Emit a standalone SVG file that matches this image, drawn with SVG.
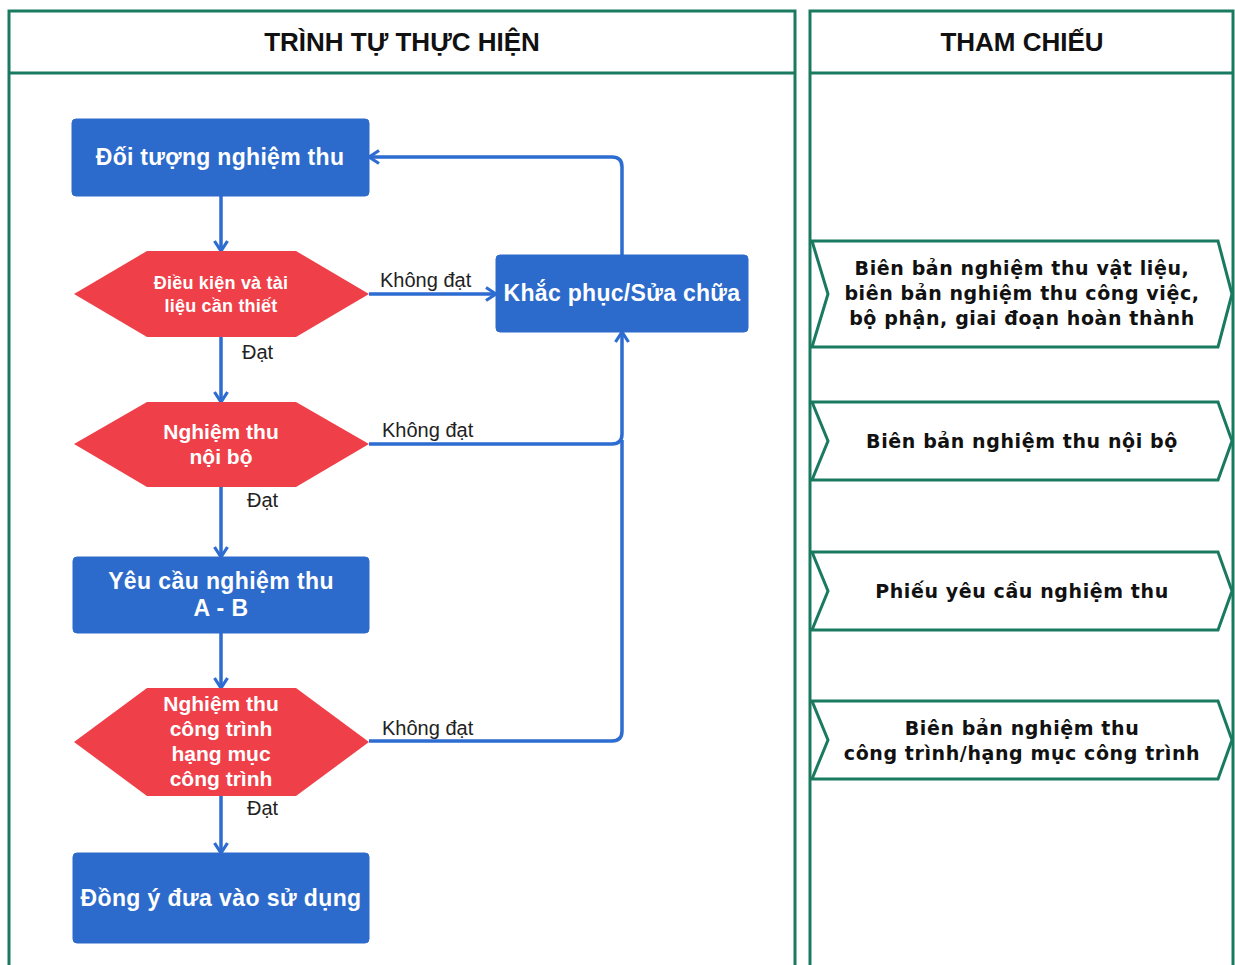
<svg xmlns="http://www.w3.org/2000/svg" width="1235" height="965" viewBox="0 0 1235 965">
<style>
.lane{fill:#fff;stroke:#1a7a60;stroke-width:3}
.hdr{font-family:"Liberation Sans",Arial,sans-serif;font-weight:bold;font-size:26px;fill:#111;text-anchor:middle}
.box{fill:#2c6bcb;stroke:#2c6bcb;stroke-width:1}
.hex{fill:#ef404a}
.wt{font-family:"Liberation Sans",Arial,sans-serif;font-weight:bold;fill:#fff;text-anchor:middle}
.conn{fill:none;stroke:#2d6cd0;stroke-width:3.5}
.lbl{font-family:"Liberation Sans",Arial,sans-serif;font-size:20px;fill:#222}
.ref{fill:#fff;stroke:#1a7a60;stroke-width:3}
.rt{font-family:"DejaVu Sans",Verdana,sans-serif;font-size:19px;font-weight:bold;letter-spacing:0.6px;fill:#111;text-anchor:middle}
</style>
<defs>
<marker id="arr" viewBox="0 0 14 16" markerWidth="14" markerHeight="16" refX="12" refY="8" orient="auto" markerUnits="userSpaceOnUse">
<path d="M2,1.5 L12,8 L2,14.5" fill="none" stroke="#2d6cd0" stroke-width="3.2" stroke-linejoin="miter"/>
</marker>
</defs>
<rect width="1235" height="965" fill="#fff"/>
<g id="lane-left">
<rect class="lane" x="9" y="11" width="786" height="970"/>
<line x1="9" y1="73" x2="795" y2="73" stroke="#1a7a60" stroke-width="3"/>
<text class="hdr" x="402" y="51">TRÌNH TỰ THỰC HIỆN</text>
</g>
<g id="lane-right">
<rect class="lane" x="810" y="11" width="423" height="970"/>
<line x1="810" y1="73" x2="1233" y2="73" stroke="#1a7a60" stroke-width="3"/>
<text class="hdr" x="1022" y="51">THAM CHIẾU</text>
</g>
<g id="connectors">
<path class="conn" d="M221,196 V251" marker-end="url(#arr)"/>
<path class="conn" d="M221,337 V402" marker-end="url(#arr)"/>
<path class="conn" d="M221,487 V557" marker-end="url(#arr)"/>
<path class="conn" d="M221,633 V688" marker-end="url(#arr)"/>
<path class="conn" d="M221,796 V853" marker-end="url(#arr)"/>
<path class="conn" d="M369,294 H496" marker-end="url(#arr)"/>
<path class="conn" d="M369,444 H612 Q622,444 622,434 V332" marker-end="url(#arr)"/>
<path class="conn" d="M369,741 H612 Q622,741 622,731 V440"/>
<path class="conn" d="M622,255 V167 Q622,157 612,157 H369" marker-end="url(#arr)"/>
<text class="lbl" x="380" y="287">Không đạt</text>
<text class="lbl" x="382" y="437">Không đạt</text>
<text class="lbl" x="382" y="735">Không đạt</text>
<text class="lbl" x="242" y="359">Đạt</text>
<text class="lbl" x="247" y="507">Đạt</text>
<text class="lbl" x="247" y="815">Đạt</text>
</g>
<g id="n-doituong">
<rect class="box" x="72" y="119" width="297" height="77" rx="4"/>
<text class="wt" x="220" y="165" font-size="23" letter-spacing="0.3">Đối tượng nghiệm thu</text>
</g>
<g id="n-dieukien">
<polygon class="hex" points="74,294 147,251 296,251 369,294 296,337 147,337"/>
<text class="wt" x="221" y="289" font-size="18" letter-spacing="0.2">Điều kiện và tài</text>
<text class="wt" x="221" y="312" font-size="18" letter-spacing="0.2">liệu cần thiết</text>
</g>
<g id="n-khacphuc">
<rect class="box" x="496" y="255" width="252" height="77" rx="4"/>
<text class="wt" x="622" y="301" font-size="23" letter-spacing="0.3">Khắc phục/Sửa chữa</text>
</g>
<g id="n-noibo">
<polygon class="hex" points="74,444 147,402 296,402 369,444 296,487 147,487"/>
<text class="wt" x="221" y="439" font-size="21">Nghiệm thu</text>
<text class="wt" x="221" y="464" font-size="21">nội bộ</text>
</g>
<g id="n-yeucau">
<rect class="box" x="73" y="557" width="296" height="76" rx="4"/>
<text class="wt" x="221" y="589" font-size="23" letter-spacing="0.4">Yêu cầu nghiệm thu</text>
<text class="wt" x="221" y="616" font-size="23" letter-spacing="0.4">A - B</text>
</g>
<g id="n-congtrinh">
<polygon class="hex" points="74,742 147,688 296,688 369,742 296,796 147,796"/>
<text class="wt" x="221" y="711" font-size="21">Nghiệm thu</text>
<text class="wt" x="221" y="736" font-size="21">công trình</text>
<text class="wt" x="221" y="761" font-size="21">hạng mục</text>
<text class="wt" x="221" y="786" font-size="21">công trình</text>
</g>
<g id="n-dongy">
<rect class="box" x="73" y="853" width="296" height="90" rx="4"/>
<text class="wt" x="221" y="906" font-size="23" letter-spacing="0.4">Đồng ý đưa vào sử dụng</text>
</g>
<g id="r-1">
<polygon class="ref" points="812,241 1218,241 1232,294 1218,347 812,347 828,294"/>
<text class="rt" x="1022" y="275">Biên bản nghiệm thu vật liệu,</text>
<text class="rt" x="1022" y="300">biên bản nghiệm thu công việc,</text>
<text class="rt" x="1022" y="325">bộ phận, giai đoạn hoàn thành</text>
</g>
<g id="r-2">
<polygon class="ref" points="812,402 1218,402 1232,441 1218,480 812,480 828,441"/>
<text class="rt" x="1022" y="448">Biên bản nghiệm thu nội bộ</text>
</g>
<g id="r-3">
<polygon class="ref" points="812,552 1218,552 1232,591 1218,630 812,630 828,591"/>
<text class="rt" x="1022" y="598">Phiếu yêu cầu nghiệm thu</text>
</g>
<g id="r-4">
<polygon class="ref" points="812,701 1218,701 1232,740 1218,779 812,779 828,740"/>
<text class="rt" x="1022" y="735">Biên bản nghiệm thu</text>
<text class="rt" x="1022" y="760">công trình/hạng mục công trình</text>
</g>
</svg>
